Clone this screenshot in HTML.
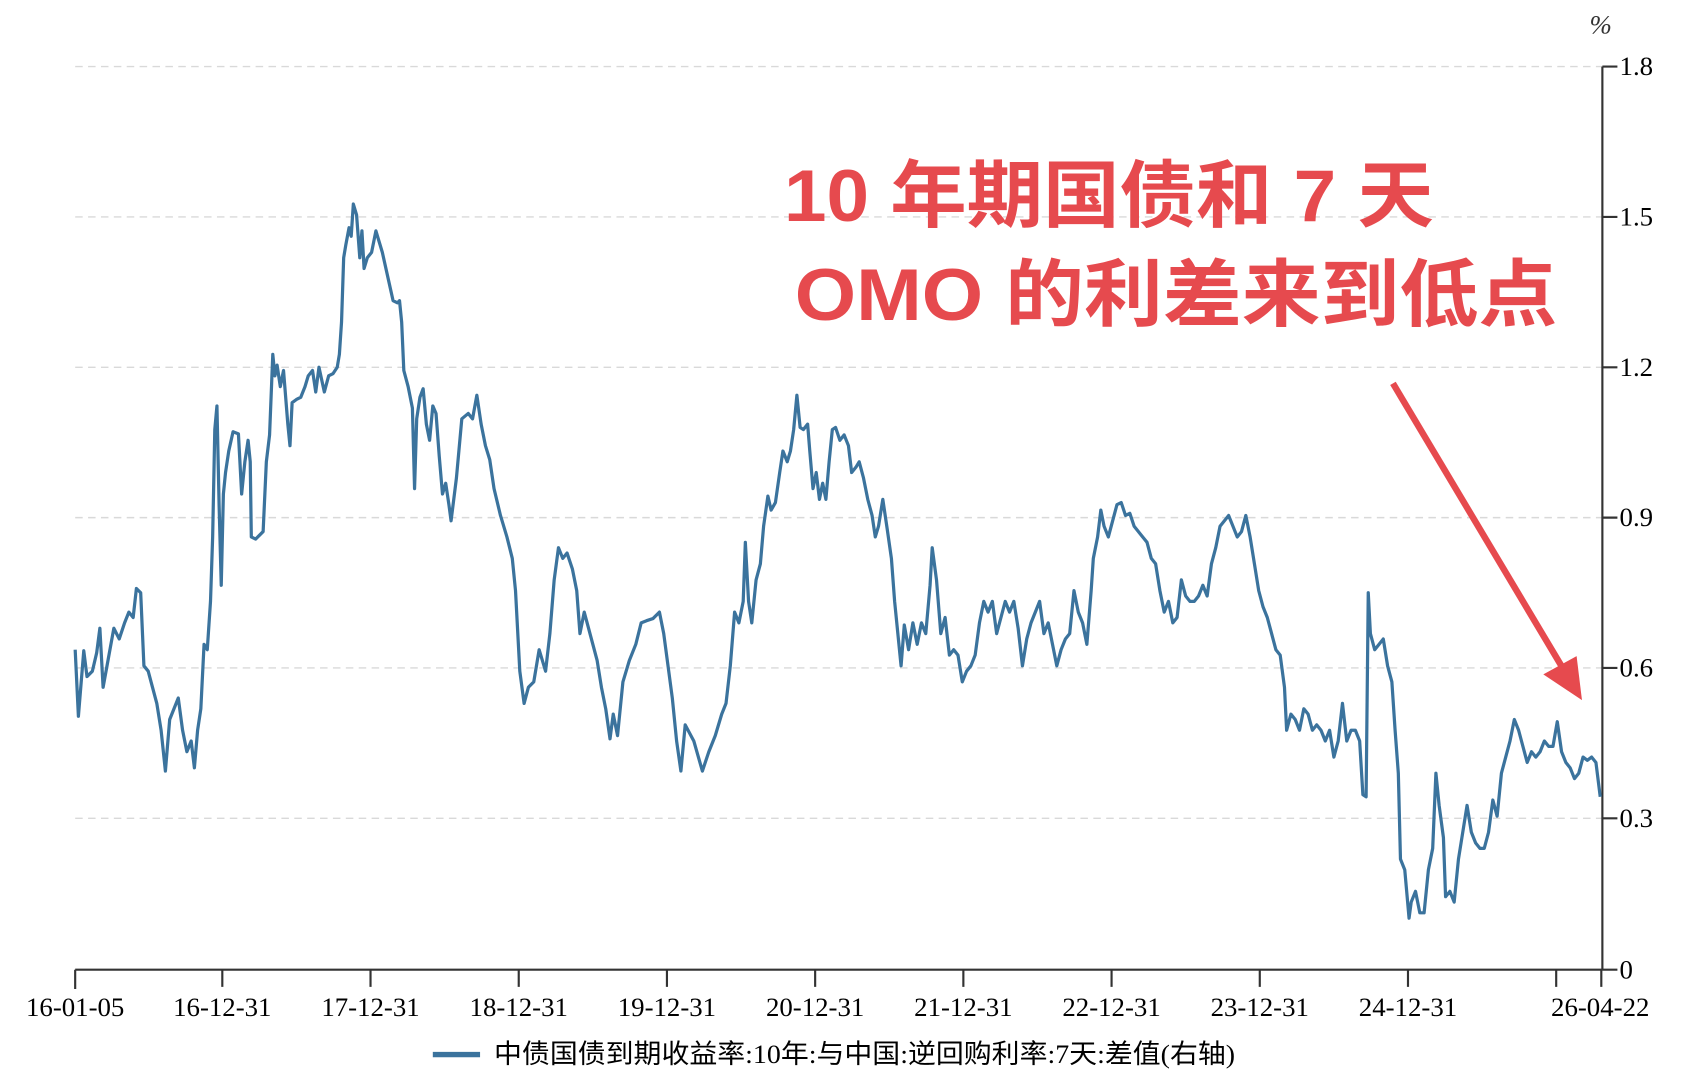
<!DOCTYPE html>
<html><head><meta charset="utf-8"><style>html,body{margin:0;padding:0;background:#fff;}svg{display:block}</style></head>
<body>
<svg width="1684" height="1090" viewBox="0 0 1568 1015" preserveAspectRatio="none" xmlns="http://www.w3.org/2000/svg">
<g stroke="#d9d9d9" stroke-width="1.3" stroke-dasharray="7,5">
<line x1="70" y1="62" x2="1492" y2="62"/><line x1="70" y1="202" x2="1492" y2="202"/><line x1="70" y1="342" x2="1492" y2="342"/><line x1="70" y1="482" x2="1492" y2="482"/><line x1="70" y1="622" x2="1492" y2="622"/><line x1="70" y1="762" x2="1492" y2="762"/>
</g>
<g stroke="#333" stroke-width="2" fill="none">
<line x1="70" y1="903" x2="1492" y2="903"/><line x1="1492" y1="62" x2="1492" y2="903"/>
<path d="M70 903v18M207 903v16M345 903v16M483 903v16M621 903v16M759 903v16M897 903v16M1035 903v16M1173 903v16M1311 903v16M1449 903v16M1491 903v16"/>
<path d="M1492 62h14M1492 202h14M1492 342h14M1492 482h14M1492 622h14M1492 762h14M1492 903h14"/>
</g>
<g font-family="Liberation Serif, serif" font-size="25" fill="#000">
<text x="1508" y="70">1.8</text><text x="1508" y="210">1.5</text><text x="1508" y="350">1.2</text><text x="1508" y="490">0.9</text><text x="1508" y="630">0.6</text><text x="1508" y="770">0.3</text><text x="1508" y="911">0</text>
<text x="1480" y="31" font-style="italic" fill="#333">%</text>
<g text-anchor="middle"><text x="70" y="946">16-01-05</text><text x="207" y="946">16-12-31</text><text x="345" y="946">17-12-31</text><text x="483" y="946">18-12-31</text><text x="621" y="946">19-12-31</text><text x="759" y="946">20-12-31</text><text x="897" y="946">21-12-31</text><text x="1035" y="946">22-12-31</text><text x="1173" y="946">23-12-31</text><text x="1311" y="946">24-12-31</text><text x="1490" y="946">26-04-22</text></g>
<text x="460" y="990" textLength="690" lengthAdjust="spacingAndGlyphs" font-family="Liberation Serif, Noto Sans CJK SC, serif">中债国债到期收益率:10年:与中国:逆回购利率:7天:差值(右轴)</text>
</g>
<line x1="403" y1="982" x2="447" y2="982" stroke="#3b739d" stroke-width="5"/>
<polyline fill="none" stroke="#3b739d" stroke-width="3" stroke-linejoin="round" points="70,605 73,667 78,606 81,630 86,625 90,608 93,585 96,640 100,618 106,585 111,595 116,580 120,570 124,575 127,548 131,552 134,620 138,625 142,640 146,655 150,680 154,718 158,670 162,660 166,650 170,680 174,700 178,690 181,715 184,680 187,660 190,600 193,605 196,560 198,500 200,400 202,378 204,470 206,545 208,460 210,440 213,420 217,402 222,404 225,460 228,430 231,410 233,430 234,500 238,502 245,495 248,430 251,405 254,330 256,350 258,340 261,360 264,345 268,395 270,415 272,375 276,372 280,370 284,360 287,350 291,345 294,365 297,342 302,365 306,350 310,348 314,342 316,330 318,300 320,240 322,228 325,212 327,220 329,190 332,200 335,240 337,215 339,250 342,240 346,235 350,215 356,235 362,262 366,280 370,282 372,280 374,300 376,345 380,360 384,380 386,455 388,390 391,370 394,362 397,395 400,410 403,378 406,385 409,425 412,460 415,450 418,470 420,485 425,445 430,390 436,385 440,390 444,368 448,395 452,415 456,428 460,455 466,480 472,500 477,520 480,550 484,625 488,655 492,640 497,635 502,605 508,625 512,590 516,540 520,510 524,520 528,515 533,530 537,550 540,590 544,570 548,585 552,600 556,615 560,640 564,660 568,688 571,665 575,685 580,635 586,615 592,600 597,580 602,578 608,576 614,570 618,590 622,620 626,650 630,690 634,718 638,675 646,690 654,718 660,700 666,685 672,665 676,655 680,620 684,570 688,580 692,560 694,505 697,560 700,580 704,540 708,525 711,490 715,462 718,475 722,468 726,440 729,420 733,430 736,420 739,400 742,368 745,398 748,400 752,395 754,420 757,455 760,440 763,465 766,450 769,465 772,430 775,400 778,398 782,410 786,405 790,415 793,440 797,435 800,430 804,445 808,465 812,480 815,500 818,490 822,465 826,492 830,520 833,560 836,590 839,620 842,582 846,605 850,580 854,600 858,580 862,590 866,545 868,510 872,540 876,590 880,575 884,610 888,605 892,610 896,635 900,625 904,620 908,610 912,580 916,560 920,570 924,560 928,590 932,575 936,560 940,570 944,560 948,585 952,620 956,595 960,580 964,570 968,560 972,590 976,580 980,600 984,620 988,605 992,595 996,590 1000,550 1004,570 1008,580 1012,600 1016,550 1018,520 1022,500 1025,475 1028,490 1032,500 1036,485 1040,470 1044,468 1048,480 1052,478 1056,490 1060,495 1064,500 1068,505 1072,520 1076,525 1080,550 1084,570 1088,560 1092,580 1096,575 1100,540 1104,555 1108,560 1112,560 1116,555 1120,545 1124,555 1128,525 1132,510 1136,490 1140,485 1144,480 1148,490 1152,500 1156,495 1160,480 1164,500 1168,525 1172,550 1176,565 1180,575 1184,590 1188,605 1192,610 1196,640 1198,680 1202,665 1206,670 1210,680 1214,660 1218,665 1222,680 1226,675 1230,680 1234,690 1238,680 1242,705 1246,690 1250,655 1254,690 1258,680 1262,680 1266,690 1269,740 1272,742 1274,552 1276,590 1280,605 1284,600 1288,595 1292,620 1296,635 1299,680 1302,720 1304,800 1308,810 1312,855 1314,840 1318,830 1322,850 1326,850 1330,810 1334,790 1337,720 1340,750 1344,780 1346,835 1350,830 1354,840 1358,800 1362,775 1366,750 1370,775 1374,785 1378,790 1382,790 1386,775 1390,745 1394,760 1398,720 1402,705 1406,690 1410,670 1414,680 1418,695 1422,710 1426,700 1430,705 1434,700 1438,690 1442,695 1446,695 1450,672 1454,700 1458,710 1462,715 1466,725 1470,720 1474,705 1478,708 1482,705 1486,710 1490,742"/>
<g font-family="Liberation Sans, Noto Sans CJK SC, sans-serif" font-weight="bold" font-size="68" fill="#e64a4e">
<text x="730" y="206" textLength="605" lengthAdjust="spacingAndGlyphs">10 年期国债和 7 天</text>
<text x="740" y="298" textLength="710" lengthAdjust="spacingAndGlyphs">OMO 的利差来到低点</text>
</g>
<line x1="1297" y1="357" x2="1455" y2="622" stroke="#e64a4e" stroke-width="6"/>
<polygon points="1473,652 1437,628 1468,611" fill="#e64a4e"/>
</svg>
</body></html>
